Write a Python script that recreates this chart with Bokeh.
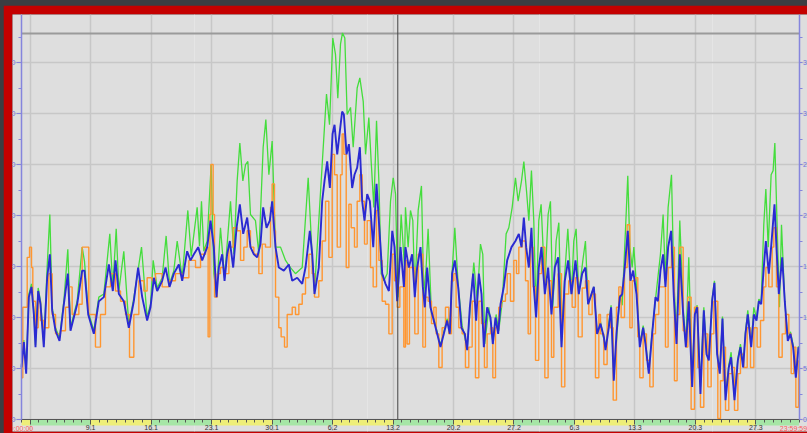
from bokeh.plotting import figure
from bokeh.models import (LinearAxis, FixedTicker, Range1d, Grid, ColumnDataSource, Label,
                          GlobalInlineStyleSheet)
from bokeh.embed import file_html
from bokeh.resources import INLINE

# ---------------- data (x in days since 1.1. 0:00:00, y in units) ----------------
blue_t = [0.00,0.27,0.54,0.85,1.16,1.43,1.62,1.93,2.20,2.58,2.97,3.28,3.55,3.94,4.40,4.90,5.36,5.67,6.44,7.02,
          7.29,7.72,8.37,8.95,9.53,10.11,10.57,10.88,11.27,11.84,12.42,13.00,13.50,13.97,14.54,14.93,15.32,15.70,16.28,16.67,
          17.13,17.63,18.21,18.60,19.17,19.56,19.95,20.45,20.91,21.49,
          21.88,22.26,22.57,22.84,23.23,23.50,23.80,24.11,24.50,24.89,25.27,25.66,26.12,26.50,26.89,27.28,27.66,27.97,28.36,28.74,
          29.01,29.40,29.78,30.36,30.94,31.33,31.91,32.49,32.87,33.37,33.65,33.91,34.41,34.80,35.07,35.38,35.69,36.00,36.23,36.54,
          36.85,37.11,37.31,37.62,37.89,38.27,38.54,38.85,39.16,39.43,39.70,40.01,40.32,40.71,41.09,41.36,41.75,42.13,42.52,42.91,
          43.18,43.48,43.87,44.26,
          44.44,44.83,45.21,45.52,45.79,46.18,46.45,46.68,46.95,47.33,47.72,48.11,48.49,48.88,49.26,49.57,49.84,50.15,50.54,50.92,
          51.31,51.58,51.89,52.27,52.62,52.93,53.24,53.51,53.89,54.28,54.55,54.86,55.17,55.44,55.82,56.21,56.71,57.17,57.56,57.87,
          58.14,58.41,58.72,59.02,59.29,59.56,59.87,60.18,60.57,60.95,61.34,61.72,62.11,62.50,62.88,63.27,63.65,64.12,64.50,64.89,
          65.27,65.58,65.85,66.24,66.62,
          67.01,67.40,67.59,67.97,68.24,68.55,68.86,69.25,69.52,69.79,70.17,70.48,70.79,71.18,71.56,71.95,72.22,72.60,72.99,73.38,
          73.65,73.95,74.26,74.53,74.84,75.19,75.50,75.81,76.19,76.58,76.89,77.23,77.62,77.93,78.20,78.58,78.97,79.28,79.55,79.93,
          80.20,80.51,80.82,81.13,81.48,81.86,82.13,82.52,82.91,83.21,83.52,83.79,84.06,84.45,84.76,85.07,85.34,85.61,85.91,86.15,
          86.49,86.76,87.15,87.38,87.65,88.04,88.34,88.69,89.00,89.31,89.62,89.93]
blue_v = [5.1,7.6,4.5,12.0,13.0,10.3,7.1,12.6,11.3,7.1,13.9,16.2,10.7,8.7,7.7,11.3,14.3,8.7,11.3,14.6,
          14.6,10.3,8.4,11.6,12.0,15.2,12.6,15.6,12.3,11.6,9.0,11.6,14.9,12.0,9.7,11.0,13.9,12.6,13.6,14.9,
          13.0,14.3,15.2,13.6,16.5,15.6,16.2,16.9,15.6,16.9,
          19.5,16.9,12.0,14.9,16.2,13.6,16.2,17.5,14.9,18.8,21.1,18.2,19.8,16.9,16.2,15.9,17.2,20.8,18.8,19.5,
          21.4,16.9,14.9,14.6,15.2,13.6,13.9,13.3,14.9,18.5,16.2,12.3,14.9,21.4,23.4,25.3,22.7,28.0,28.9,26.0,
          28.3,30.2,29.9,26.0,27.0,22.7,24.0,24.7,26.7,21.4,19.5,22.1,21.4,16.9,23.1,19.5,14.3,13.3,12.6,18.5,
          16.9,11.6,16.9,13.0,
          16.9,14.9,16.2,12.0,14.9,16.9,13.0,11.0,14.9,11.0,9.7,8.4,7.1,8.4,9.7,8.4,14.3,15.6,13.0,9.0,
          8.4,6.8,11.0,14.3,9.7,14.3,12.3,7.1,11.0,10.0,7.4,10.0,8.4,11.3,13.0,15.6,16.9,17.5,18.2,16.9,
          19.8,16.9,14.9,18.8,13.0,10.0,14.9,16.9,12.3,14.9,10.3,14.9,15.9,7.1,13.6,15.6,12.3,15.6,12.3,14.3,
          14.9,11.3,12.0,13.0,8.4,
          9.4,8.1,6.8,9.0,11.0,3.8,8.4,12.0,12.3,14.6,18.5,13.6,14.6,12.3,7.1,9.0,7.4,4.5,8.4,12.0,
          11.6,14.6,16.2,13.0,16.9,18.5,12.0,7.4,16.2,10.3,7.1,11.6,3.2,10.3,11.0,2.5,10.7,6.4,5.8,11.6,
          13.4,6.4,4.5,9.9,1.9,5.1,6.1,1.9,5.8,7.1,5.1,8.4,10.3,7.1,10.3,9.7,11.6,11.3,14.9,17.5,
          14.3,16.9,21.1,16.9,12.3,15.9,11.6,7.7,8.4,7.1,4.1,7.1]

green_t = [0.00,0.27,0.54,0.85,1.16,1.43,1.62,1.93,2.20,2.58,2.97,3.28,3.55,3.94,4.40,4.90,5.36,5.67,6.44,7.02,
           7.29,7.72,8.37,8.95,9.53,10.22,10.57,10.96,11.27,11.84,12.42,13.00,13.89,14.54,14.93,15.24,15.70,16.28,16.74,17.13,
           17.63,18.02,18.60,19.25,19.64,20.33,20.60,20.83,21.10,21.49,21.95,
           22.26,22.57,23.03,23.50,24.19,24.58,24.96,25.27,25.62,25.93,26.20,26.50,27.08,27.47,27.97,28.28,28.63,29.01,29.40,29.98,
           30.56,31.13,31.71,32.49,33.18,33.65,33.91,34.41,34.80,35.30,35.65,36.03,36.34,36.61,36.92,37.15,37.42,37.69,38.08,38.39,
           38.85,39.16,39.55,39.82,40.20,40.47,40.78,41.09,41.36,41.63,41.94,42.32,42.71,43.02,43.29,43.56,43.94,44.33,
           44.44,44.75,45.02,45.29,45.52,45.91,46.29,46.56,46.83,47.06,47.45,47.72,48.11,48.49,48.88,49.26,49.57,49.84,50.15,50.54,
           51.00,51.58,51.96,52.35,52.74,53.12,53.39,53.62,54.09,54.55,54.93,55.24,55.63,56.09,56.40,56.79,57.17,57.48,57.87,58.14,
           58.45,58.72,59.02,59.29,59.56,59.87,60.14,60.57,60.95,61.22,61.49,61.88,62.19,62.50,62.88,63.23,63.65,63.92,64.19,64.50,
           64.97,65.27,65.58,65.97,66.24,66.62,
           67.01,67.59,68.24,68.55,69.25,69.52,69.90,70.17,70.41,70.68,70.87,71.18,71.56,71.95,72.22,72.60,72.99,73.38,73.95,74.26,
           74.53,74.84,75.23,75.50,75.81,76.19,76.58,76.89,77.23,77.62,77.93,78.20,78.58,78.97,79.28,79.55,79.93,80.20,80.51,80.82,
           81.13,81.48,81.86,82.13,82.52,82.91,83.21,83.52,83.79,84.06,84.45,84.76,85.07,85.34,85.61,85.91,86.15,86.42,86.76,86.99,
           87.19,87.46,87.73,87.96,88.34,88.69,89.00,89.31,89.62,89.93]
green_v = [5.3,7.8,4.7,12.3,13.3,10.6,7.3,12.9,11.6,7.4,15.0,20.1,11.0,9.0,8.0,11.6,16.7,9.0,11.6,16.9,
           15.5,10.6,8.7,12.0,12.3,18.2,13.0,18.7,12.6,16.5,9.3,11.9,16.9,10.0,11.3,15.6,12.9,13.9,18.0,13.3,
           14.6,17.5,13.9,20.5,16.0,20.8,17.0,21.4,16.5,17.5,25.0,
           14.3,12.2,18.8,13.9,21.4,16.2,23.4,27.1,23.4,25.0,25.3,20.1,19.5,16.2,26.7,29.4,24.0,27.3,16.9,16.9,
           15.6,14.9,14.3,14.9,23.7,15.9,12.6,19.5,25.0,31.9,28.9,37.4,35.8,31.5,36.8,37.9,37.4,29.9,30.6,26.7,
           32.5,33.5,31.2,26.0,29.6,25.3,20.8,29.3,23.4,14.3,13.6,14.3,21.4,23.7,22.1,12.0,20.1,14.9,
           20.8,16.9,20.5,19.5,12.3,20.5,22.9,12.3,14.9,18.7,10.3,9.9,8.6,7.3,8.6,9.9,8.6,14.5,18.8,13.2,
           9.2,7.0,11.3,15.4,11.6,17.2,16.2,7.4,11.0,7.6,10.3,8.7,11.5,18.2,18.8,20.8,23.7,21.4,23.4,25.3,
           22.4,19.5,24.4,19.5,10.3,19.5,21.1,13.0,20.1,21.4,11.0,17.5,19.3,7.7,14.3,18.7,12.3,17.5,18.7,12.3,
           15.6,17.5,11.3,12.3,13.0,8.4,
           9.6,7.0,11.2,4.0,12.2,11.2,18.5,23.9,16.9,14.9,16.9,13.0,7.4,9.2,7.6,4.7,8.6,11.8,16.2,20.1,
           13.6,20.8,24.0,13.6,8.4,19.5,11.0,7.3,15.9,3.8,10.6,11.2,3.2,11.0,6.6,6.0,11.8,13.6,6.6,4.7,
           10.1,2.5,5.3,6.6,2.2,6.0,7.4,5.3,8.6,10.7,7.3,11.0,9.9,11.8,11.6,19.1,22.6,16.9,24.0,24.4,
           27.1,18.8,11.0,19.1,11.6,7.9,8.6,7.3,4.2,7.2]

orange_t = [0.00,0.15,0.46,0.66,0.93,1.16,1.31,1.62,1.93,2.20,2.58,3.16,3.55,3.94,4.51,5.09,5.48,5.86,6.64,7.02,
            7.41,7.79,8.56,9.14,9.72,10.30,10.88,11.46,12.04,12.50,13.00,13.58,14.16,14.54,15.12,15.51,16.28,17.05,17.82,18.60,
            19.37,20.14,20.72,21.30,21.60,21.80,
            21.92,22.18,22.34,22.65,23.03,23.42,24.00,24.50,24.96,25.35,25.73,26.12,26.50,26.89,27.47,27.86,28.24,28.82,29.01,29.28,
            29.40,29.78,30.05,30.44,30.75,31.33,31.71,32.10,32.49,32.87,33.26,33.64,33.91,34.41,34.80,35.19,35.57,35.96,36.23,36.54,
            36.92,37.11,37.31,37.58,37.89,38.16,38.54,38.85,39.16,39.43,39.70,40.01,40.39,40.70,41.09,41.36,41.74,42.13,42.52,42.90,
            43.17,43.48,43.79,44.25,
            44.44,44.63,44.90,45.29,45.52,45.91,46.18,46.45,46.75,47.06,47.45,47.72,47.99,48.30,48.68,49.07,49.46,49.76,50.03,50.30,
            50.61,51.00,51.38,51.77,52.16,52.54,52.93,53.24,53.58,53.89,54.28,54.55,54.86,55.24,55.55,56.01,56.21,56.59,56.98,57.29,
            57.56,57.94,58.33,58.64,58.91,59.22,59.49,59.87,60.18,60.57,60.95,61.34,61.61,62.11,62.50,62.88,63.34,63.73,64.12,64.43,
            64.89,65.27,65.66,66.05,66.43,66.82,
            67.01,67.40,67.78,68.17,68.48,68.86,69.13,69.40,69.79,70.10,70.41,70.68,71.06,71.33,71.56,71.95,72.33,72.72,73.11,73.38,
            73.76,74.15,74.53,74.84,75.23,75.57,75.88,76.19,76.58,76.89,77.12,77.50,77.89,78.28,78.58,78.97,79.43,79.82,80.13,80.59,
            80.90,81.21,81.48,81.86,82.25,82.52,82.91,83.21,83.60,83.99,84.37,84.76,85.14,85.53,85.91,86.15,86.49,86.88,87.07,87.38,
            87.65,88.04,88.42,88.81,89.08,89.39,89.62,89.93]
orange_v = [4.1,11.0,11.0,15.9,16.9,14.9,11.6,9.0,11.6,9.7,9.0,14.3,10.3,8.4,8.7,11.0,13.0,10.3,11.3,16.9,
            16.9,10.3,7.1,10.3,13.0,14.3,12.6,11.6,10.3,6.1,10.3,13.6,12.6,13.9,13.6,14.3,13.0,13.6,14.3,13.9,
            15.6,14.9,16.2,16.9,8.1,20.1,
            25.0,20.1,12.0,14.3,14.9,14.3,16.9,18.8,18.5,15.6,16.9,18.5,16.9,16.2,14.3,17.2,16.9,20.8,23.1,18.5,
            12.0,9.0,8.1,7.1,10.3,11.0,10.3,11.3,12.3,13.9,16.2,14.3,12.0,13.6,17.5,21.4,15.9,26.0,24.0,16.9,
            24.0,28.0,26.0,14.9,21.1,18.8,16.9,21.4,24.0,21.4,17.2,19.5,14.9,13.0,20.5,15.6,11.6,11.3,8.4,16.2,
            13.6,11.0,13.0,7.1,
            15.6,7.4,14.9,14.9,8.4,16.2,16.2,7.1,12.0,11.6,9.4,11.0,8.4,5.1,9.0,11.0,8.4,13.6,14.3,11.0,
            9.0,8.4,5.1,7.1,11.6,4.1,11.6,9.4,5.1,8.4,9.0,4.1,9.0,11.0,11.6,12.3,14.3,11.6,15.6,14.3,
            16.9,17.5,13.6,8.4,16.9,13.0,5.8,14.3,16.9,4.1,13.6,6.1,11.0,14.3,3.2,12.3,13.6,11.0,13.9,8.1,
            12.9,13.6,10.3,12.3,4.1,10.3,
            8.4,5.4,10.3,9.0,1.9,11.0,13.0,10.0,14.9,19.1,9.0,13.6,13.9,8.1,4.1,8.4,5.8,3.2,8.4,10.3,
            13.0,13.0,7.1,14.9,16.9,3.8,10.3,16.9,8.7,7.1,12.0,1.0,11.0,5.1,1.2,8.4,3.2,8.4,11.6,0.1,
            3.8,7.1,0.9,4.5,5.1,0.9,4.5,6.4,5.1,9.0,5.1,9.0,7.1,9.7,13.0,14.9,13.0,16.9,18.8,13.0,
            6.1,8.4,10.3,8.4,4.5,7.1,1.2,5.8]

# week starts (Mondays) in days since 1.1., and their labels
week_days = [1, 8, 15, 22, 29, 36, 43, 50, 57, 64, 71, 78, 85]
week_labels = ["", "9.1", "16.1", "23.1", "30.1", "6.2", "13.2", "20.2", "27.2", "6.3", "13.3", "20.3", "27.3"]
period_end = 90                      # 31.3. 23:59:59
end_labels = ["0:00:00", "23:59:59"]
strip_edges = [0, 1, 8, 15, 22, 29, 36, 43, 50, 57, 64, 71, 78, 85, 90]
strip_kind = [0, 1, 0, 1, 0, 1, 0, 1, 0, 1, 0, 1, 0, 1]   # 0 = yellow week, 1 = green week
y_ticks = [0, 5, 10, 15, 20, 25, 30, 35]
y_minor = [2.5, 7.5, 12.5, 17.5, 22.5, 27.5, 32.5, 37.5]
left_labels = ["0", "0", "0", "0", "0", "0", "0", "0"]      # visible part of the left scale labels
right_labels = ["0", "5", "1", "1", "2", "2", "3", "3"]     # visible part of the right scale labels
limit_value = 37.84
cursor_day = 43.55

# ---------------- figure ----------------
X0, X1 = -1.042, 90.97
Y0, Y1 = -1.176, 39.71
p = figure(width=804, height=428, output_backend="svg", toolbar_location=None,
           x_range=Range1d(X0, X1), y_range=Range1d(Y0, Y1),
           x_axis_location=None, y_axis_location=None,
           min_border_left=9, min_border_top=9, min_border_bottom=2, min_border_right=0,
           border_fill_color="#c40000", background_fill_color="#dedede",
           outline_line_color=None)
p.stylesheets = [GlobalInlineStyleSheet(css="body{margin:5px 0 0 3px !important;background:#3b3d42;overflow:hidden;}")]

GRID = "#c7c7c7"
p.add_layout(Grid(dimension=0, ticker=FixedTicker(ticks=week_days), grid_line_color=GRID, grid_line_width=1.5))
p.add_layout(Grid(dimension=1, ticker=FixedTicker(ticks=y_ticks), grid_line_color=GRID, grid_line_width=1.5))

# top limit line
p.segment(x0=[0], y0=[limit_value], x1=[period_end], y1=[limit_value], line_color="#9a9a9a", line_width=2)

# series
p.line(green_t, green_v, line_color="#44dd3c", line_width=1.3)
p.step(orange_t, orange_v, mode="after", line_color="#ff9630", line_width=1.4)
p.line(blue_t, blue_v, line_color="#2a2ad2", line_width=1.9)

# cursor
p.segment(x0=[cursor_day], y0=[0], x1=[cursor_day], y1=[Y1], line_color="#444444", line_width=1)

# week strip
STRIP_H = 0.59
src = ColumnDataSource(dict(left=strip_edges[:-1], right=strip_edges[1:],
                            color=["#eeee78" if k == 0 else "#a6e6a6" for k in strip_kind]))
p.quad(left="left", right="right", bottom=-STRIP_H, top=0, fill_color="color", line_color=None, source=src)

FONT = "Liberation Sans"
AX = "#8585dd"
LAB = "7px"

# bottom time axis
xa = LinearAxis(fixed_location=0, bounds=(0, period_end),
                ticker=FixedTicker(ticks=week_days, minor_ticks=list(range(0, period_end + 1))),
                major_label_overrides={float(d): l for d, l in zip(week_days, week_labels)},
                axis_line_color="#555555", axis_line_width=1,
                major_tick_line_color="#555555", major_tick_out=5, major_tick_in=0,
                minor_tick_line_color="#555555", minor_tick_out=3, minor_tick_in=0,
                major_label_standoff=0, major_label_text_font=FONT,
                major_label_text_font_size=LAB, major_label_text_color="#333333")
p.add_layout(xa, "below")

xe = LinearAxis(fixed_location=0, ticker=FixedTicker(ticks=[0]),
                major_label_overrides={0.0: end_labels[0]},
                axis_line_color=None, major_tick_line_color=None, minor_tick_line_color=None,
                major_tick_out=5, major_tick_in=0, major_label_standoff=0,
                major_label_text_font=FONT, major_label_text_font_size=LAB,
                major_label_text_color="#ff5a5a")
p.add_layout(xe, "below")

p.add_layout(Label(x=period_end, y=0, x_offset=8, y_offset=-5, text=end_labels[1],
                   text_align="right", text_baseline="top", text_font=FONT,
                   text_font_size=LAB, text_color="#ff5a5a"))

# left value axis
ya = LinearAxis(fixed_location=0, bounds=(0, Y1),
                ticker=FixedTicker(ticks=y_ticks, minor_ticks=y_minor),
                major_label_overrides={float(t): l for t, l in zip(y_ticks, left_labels)},
                axis_line_color=AX, axis_line_width=1.5,
                major_tick_line_color=AX, major_tick_out=5, major_tick_in=0,
                minor_tick_line_color=AX, minor_tick_out=3, minor_tick_in=0,
                major_label_standoff=1, major_label_text_font=FONT,
                major_label_text_font_size=LAB, major_label_text_color="#7070e0")
p.add_layout(ya, "left")

# right value axis
yb = LinearAxis(fixed_location=period_end, bounds=(0, Y1),
                ticker=FixedTicker(ticks=y_ticks, minor_ticks=y_minor),
                major_label_overrides={float(t): l for t, l in zip(y_ticks, right_labels)},
                axis_line_color=AX, axis_line_width=1.5,
                major_tick_line_color=AX, major_tick_out=3, major_tick_in=0,
                minor_tick_line_color=AX, minor_tick_out=3, minor_tick_in=0,
                major_label_standoff=1, major_label_text_font=FONT,
                major_label_text_font_size=LAB, major_label_text_color="#7070e0")
p.add_layout(yb, "right")

open("out.html", "w").write(file_html(p, INLINE))
